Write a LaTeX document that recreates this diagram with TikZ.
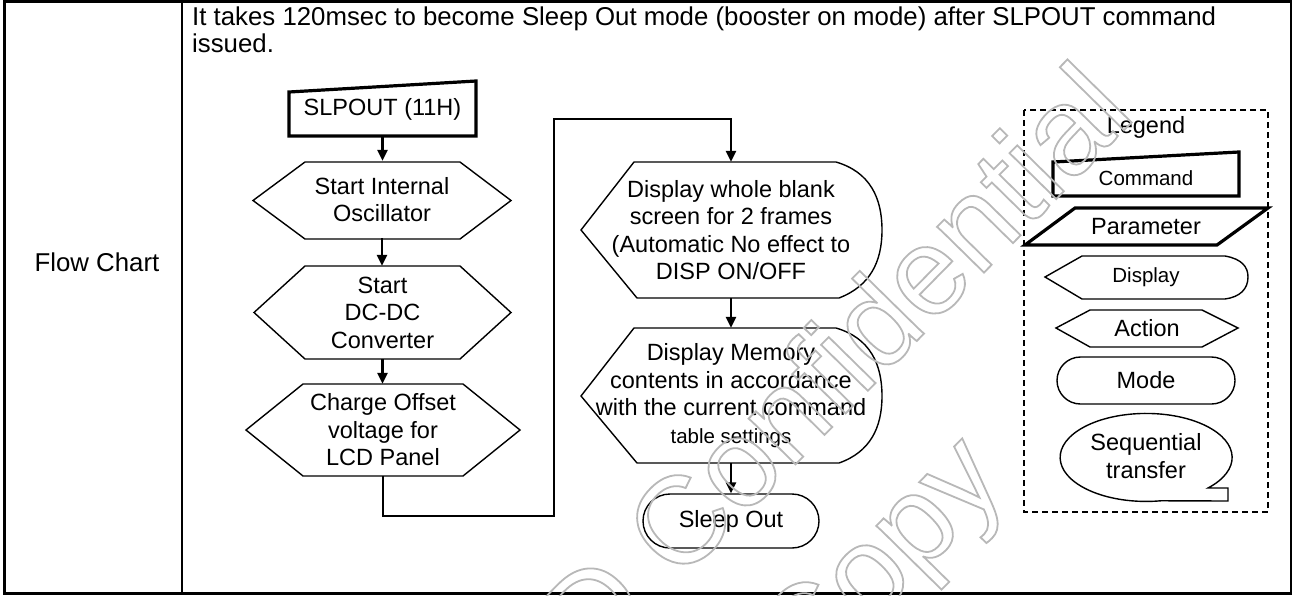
\documentclass[tikz,border=0pt]{standalone}
\usepackage{fontspec}
\setmainfont{Liberation Sans}
\usetikzlibrary{arrows.meta}
\newcommand{\outlinetext}[1]{\special{pdf:literal direct 1 Tr 1.8 w}#1\special{pdf:literal direct 0 Tr}}
\begin{document}
\begin{tikzpicture}[x=1pt,y=-1pt,
  every node/.style={font=\fontsize{23.5}{27.5}\selectfont, align=center, inner sep=0pt},
  big/.style={font=\fontsize{25.8}{28}\selectfont},
  small/.style={font=\fontsize{20.5}{24}\selectfont},
  shp/.style={line width=1.4pt, line join=miter},
  thk/.style={line width=3.2pt, line join=miter},
  arr/.style={line width=2.4pt, -{Triangle[length=11pt,width=10pt]}},
  frame/.style={line width=1.8pt},
  thickframe/.style={line width=3pt},
  sz/.style 2 args={minimum width=#1, minimum height=#2},
  wm/.style={rotate=45.5, text=black!28, font=\fontsize{124}{144}\selectfont}]
\useasboundingbox (0,0) rectangle (1294,595);
% table frame
\draw[frame] (1291,2) -- (1291,593);
\draw[frame] (182,2) -- (182,593);
\draw[thickframe] (4,1.5) -- (1292,1.5);
\draw[thickframe] (4,593.5) -- (1292,593.5);
\draw[thickframe] (4,0) -- (4,595);
% texts
\node[big, anchor=base west] (t1) at (192,25) {It takes 120msec to become Sleep Out mode (booster on mode) after SLPOUT command};
\node[big, anchor=base west] (t2) at (192,52) {issued.};
\node[big] (fc) at (97,262) {Flow Chart};
% left column
\draw[thk] (289,92) -- (476,81) -- (476,136) -- (289,136) -- cycle;
\node[sz={187}{55}] (s0) at (382.5,109) {SLPOUT (11H)};
\draw[shp] (253,200.5) -- (305,162) -- (460,162) -- (511,200.5) -- (460,239) -- (305,239) -- cycle;
\node[sz={258}{77}] (h1) at (382,199.5) {Start Internal\\Oscillator};
\draw[shp] (254,312.5) -- (305,266) -- (460,266) -- (511,312.5) -- (460,359) -- (305,359) -- cycle;
\node[sz={257}{93}] (h2) at (382.5,312.5) {Start\\DC-DC\\Converter};
\draw[shp] (246,430) -- (303,384) -- (463,384) -- (520,430) -- (463,476) -- (303,476) -- cycle;
\node[sz={274}{92}] (h3) at (383,430) {Charge Offset\\voltage for\\LCD Panel};
\draw[arr] (s0.south) -- (s0.south |- h1.north);
\draw[arr] (h1.south) -- (h1.south |- h2.north);
\draw[arr] (h2.south) -- (h2.south |- h3.north);
% right column
\draw[shp] (581,230) -- (634,162) -- (836,162) .. controls (870,172) and (882,198) .. (882,230) .. controls (882,262) and (870,286) .. (839,298) -- (637,298) -- cycle;
\node[sz={301}{136}] (d1) at (731,230) {Display whole blank\\screen for 2 frames\\(Automatic No effect to\\DISP ON/OFF};
\draw[shp] (581,396) -- (634,328) -- (836,328) .. controls (870,338) and (882,364) .. (882,396) .. controls (882,428) and (870,452) .. (839,463) -- (637,463) -- cycle;
\node[sz={301}{135}] (d2) at (731,395.5) {Display Memory\\contents in accordance\\with the current command\\{\fontsize{20.5}{24}\selectfont table settings}};
\node[draw, line width=1.4pt, rounded corners=27pt, sz={176}{54}] (so) at (731,521) {Sleep Out};
\coordinate (c1) at (554,516);
\coordinate (c2) at (554,119);
\draw[arr, line join=miter] (h3.south) |- (c1) -- (c2) -| (d1.north);
\draw[arr] (d1.south) -- (d2.north);
\draw[arr] (d2.south) -- (so.north);
% legend
\draw[line width=1.3pt, dash pattern=on 6pt off 4pt] (1024,110) rectangle (1268,512);
\node[anchor=base] (lg) at (1146,133) {Legend};
\draw[thk] (1053,162) -- (1239,152) -- (1239,196) -- (1053,196) -- cycle;
\node[small] (lc) at (1146,178) {Command};
\draw[thk] (1075,208) -- (1268,208) -- (1217,245) -- (1025,245) -- cycle;
\node (lp) at (1146,226.5) {Parameter};
\draw[shp] (1045,277) -- (1082,256) -- (1225,256) .. controls (1242,259) and (1248,267) .. (1248,277) .. controls (1248,289) and (1240,297) .. (1225,299) -- (1082,299) -- cycle;
\node[small] (ld) at (1146,277) {Display};
\draw[shp] (1056,328) -- (1090,310) -- (1202,310) -- (1238,328) -- (1202,347) -- (1090,347) -- cycle;
\node (la) at (1147,328) {Action};
\node[draw, line width=1.4pt, rounded corners=23.5pt, sz={178}{47}] (lm) at (1146,380.5) {Mode};
\draw[shp] (1208,488) arc[start angle=44, end angle=-280, x radius=86, y radius=44] -- (1228,501) -- (1228,488) -- cycle;
\node (ls) at (1146,456) {Sequential\\transfer};
% watermark
\node[wm] (wm1) at (833,363) {\outlinetext{D Confidential}};
\node[wm] (wm2) at (886,566) {\outlinetext{Copy}};
\end{tikzpicture}
\end{document}
